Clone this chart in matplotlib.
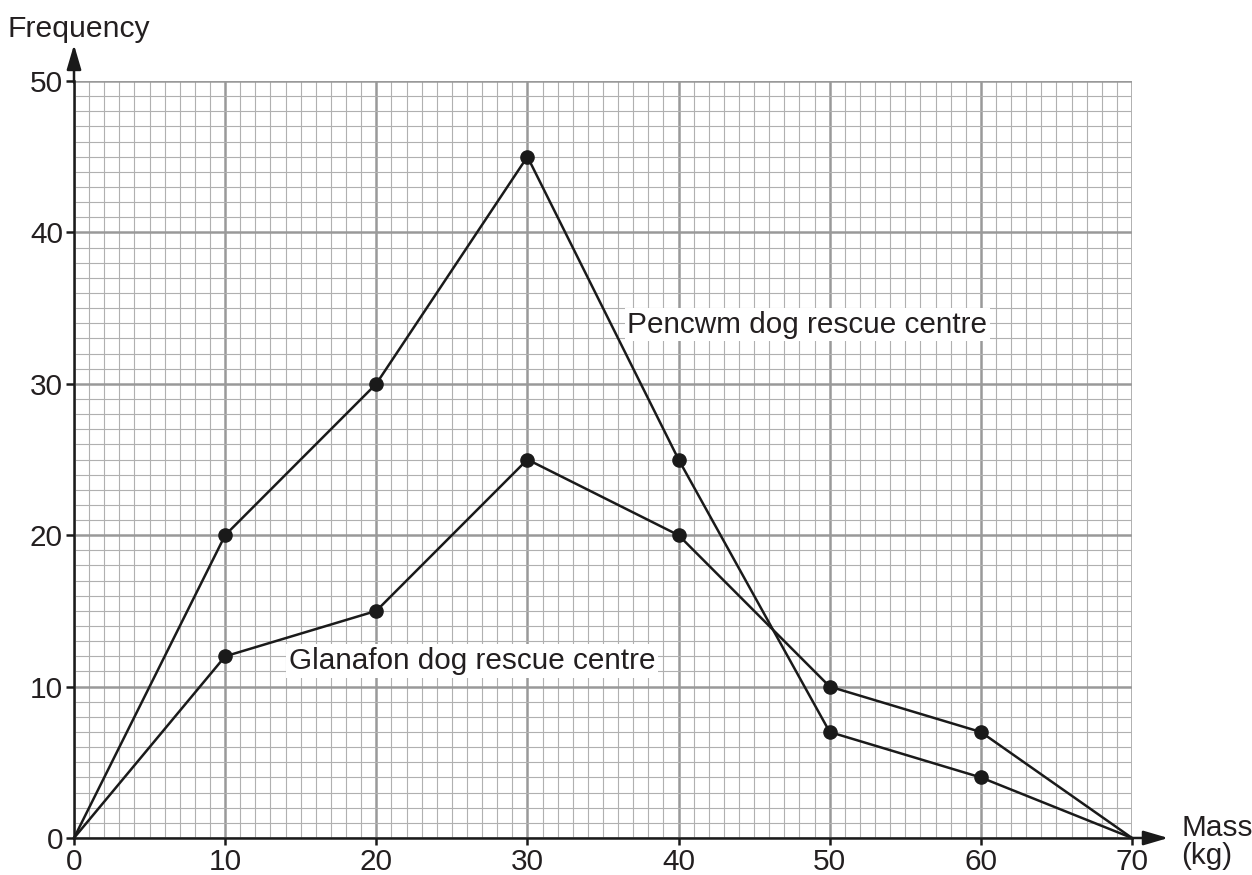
import matplotlib
matplotlib.use("Agg")
import matplotlib.pyplot as plt
import numpy as np

plt.rcParams['font.family'] = ['Liberation Sans', 'DejaVu Sans']

mass = [0, 10, 20, 30, 40, 50, 60, 70]
pencwm = [0, 20, 30, 45, 25, 7, 4, 0]
glanafon = [0, 12, 15, 25, 20, 10, 7, 0]
x_ticks = [0, 10, 20, 30, 40, 50, 60, 70]
y_ticks = [0, 10, 20, 30, 40, 50]

W, H = 1252, 875
FS = 21.4
TC = '#231f20'
fig = plt.figure(figsize=(W / 100, H / 100), dpi=100)
ax = fig.add_axes([74 / W, 1 - 838 / H, (1132 - 74) / W, (838 - 81) / H])

ax.set_xlim(0, 70)
ax.set_ylim(0, 50)

# grid
ax.set_xticks(np.arange(0, 71, 1), minor=True)
ax.set_yticks(np.arange(0, 51, 1), minor=True)
ax.set_xticks(x_ticks)
ax.set_yticks(y_ticks)
ax.grid(which='minor', color='#b0b0b0', lw=0.8, zorder=0)
ax.grid(which='major', color='#999999', lw=1.8, zorder=0)
ax.set_axisbelow(True)

for s in ['top', 'right']:
    ax.spines[s].set_visible(False)
for s in ['left', 'bottom']:
    ax.spines[s].set_color('#1a1a1a')
    ax.spines[s].set_linewidth(1.8)
    ax.spines[s].set_zorder(3)

ax.tick_params(which='minor', length=0)
ax.tick_params(which='major', axis='x', length=5, width=1.8, color='#1a1a1a',
               labelsize=FS, pad=2, labelcolor=TC)
ax.tick_params(which='major', axis='y', length=6, width=1.8, color='#1a1a1a',
               labelsize=FS, pad=2, labelcolor=TC)

# arrows on axes
ap = dict(arrowstyle='-|>,head_length=0.75,head_width=0.22', mutation_scale=20,
          lw=1.8, color='#1a1a1a', shrinkA=0, shrinkB=0)
ax.annotate('', xy=(0, 52.4), xytext=(0, 49.9), arrowprops=ap, annotation_clip=False)
ax.annotate('', xy=(72.4, 0), xytext=(69.9, 0), arrowprops=ap, annotation_clip=False)

# data lines
ax.plot(mass, pencwm, color='#1a1a1a', lw=1.8, marker='o', markersize=9.5,
        markevery=list(range(1, len(mass) - 1)), zorder=4, clip_on=False)
ax.plot(mass, glanafon, color='#1a1a1a', lw=1.8, marker='o', markersize=9.5,
        markevery=list(range(1, len(mass) - 1)), zorder=4, clip_on=False)

box = dict(facecolor='white', edgecolor='none', pad=2)
ax.text(36.6, 33.9, 'Pencwm dog rescue centre', fontsize=FS, color=TC,
        ha='left', va='center', bbox=box, zorder=5)
ax.text(14.2, 11.7, 'Glanafon dog rescue centre', fontsize=FS, color=TC,
        ha='left', va='center', bbox=box, zorder=5)

fig.text(8 / W, 1 - 37 / H, 'Frequency', fontsize=21.7, color=TC,
         ha='left', va='baseline')
fig.text(1181 / W, 1 - 842 / H, 'Mass\n(kg)', fontsize=FS, color=TC,
         ha='left', va='center', linespacing=1.0)

fig.savefig('out.png', dpi=100, facecolor='white')
